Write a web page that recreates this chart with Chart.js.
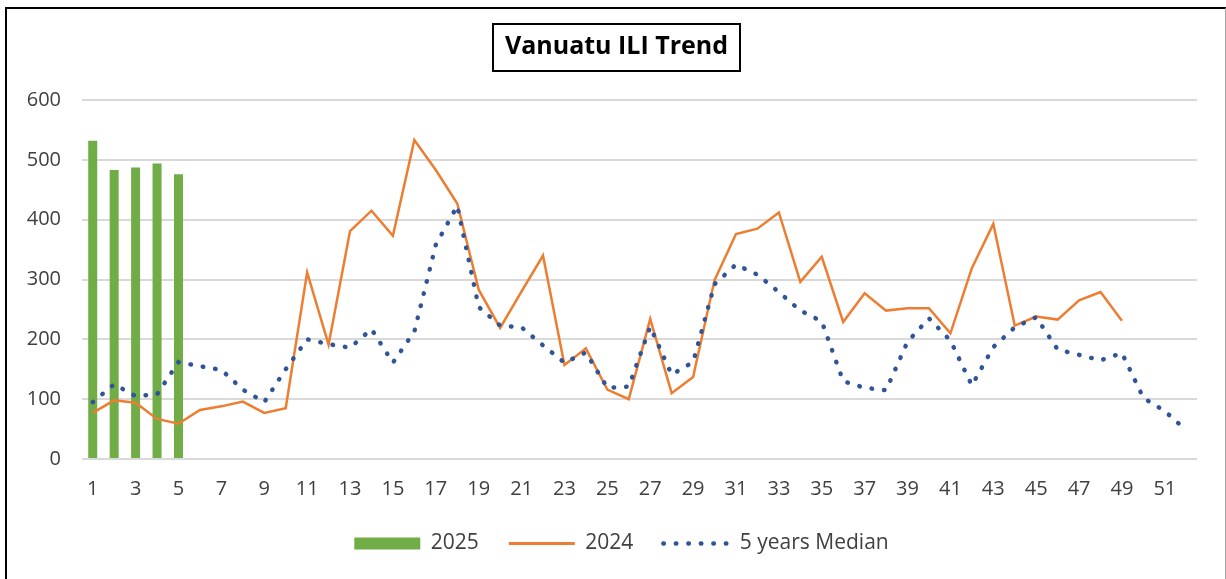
<!DOCTYPE html>
<html>
<head>
<meta charset="utf-8">
<title>Vanuatu ILI Trend</title>
<script src="https://cdn.jsdelivr.net/npm/chart.js@4/dist/chart.umd.min.js"></script>
<style>
  html, body { margin: 0; padding: 0; background: #fff; }
  #wrap { position: relative; width: 1226px; height: 579px; overflow: hidden; }
  #frame {
    position: absolute; left: 5px; top: 7px; width: 1221px; height: 600px;
    box-sizing: border-box; pointer-events: none;
    border-top: 2px solid #000; border-left: 2px solid #000; border-right: 1px solid #a6a6a6;
  }
  canvas { position: absolute; left: 0; top: 0; }
</style>
</head>
<body>
<div id="wrap">
  <canvas id="myChart" width="1226" height="579"></canvas>
  <div id="frame"></div>
</div>
<script>
// weekly ILI counts
const weeks = [];
for (let w = 1; w <= 52; w++) weeks.push(String(w));

const cases2025 = [532, 483, 487, 494, 476];

const cases2024 = [
  77, 98, 94, 67, 59, 82, 88, 96, 77, 85,
  312, 191, 381, 415, 373, 533, 483, 427, 283, 219,
  280, 340, 157, 185, 116, 100, 234, 110, 137, 299,
  376, 385, 412, 296, 338, 229, 277, 248, 252, 252,
  210, 319, 393, 223, 238, 233, 265, 279, 231
];

const median5y = [
  95, 125, 105, 108, 162, 155, 149, 116, 95, 150,
  200, 192, 186, 217, 161, 213, 358, 423, 254, 223,
  220, 190, 161, 178, 119, 121, 221, 141, 162, 292,
  325, 308, 279, 248, 230, 130, 119, 115, 196, 235,
  198, 123, 187, 220, 237, 183, 174, 165, 177, 102,
  80, 48
];

const yTicks = [0, 100, 200, 300, 400, 500, 600];

const constValues = {
  FONT: '"Open Sans", "Noto Sans", sans-serif',
  TEXT_COLOR: '#404040',
  GRID_COLOR: '#d9d9d9',
  GREEN: '#70ad47',
  ORANGE: '#ed7d31',
  BLUE: '#2f5597',
  LEGEND_SHIFT: 15,
  TITLE_SHIFT: 10
};

function padTo(values, length) {
  const out = values.slice();
  while (out.length < length) out.push(null);
  return out;
}

// title and legend sit a little right of the plot centre
const nudgePlugin = {
  id: 'nudge',
  afterLayout(chart) {
    if (chart.legend) {
      chart.legend.left += constValues.LEGEND_SHIFT;
      chart.legend.right += constValues.LEGEND_SHIFT;
    }
    if (chart.titleBlock) {
      chart.titleBlock.left += constValues.TITLE_SHIFT;
      chart.titleBlock.right += constValues.TITLE_SHIFT;
    }
  }
};

// draws a thin rectangle round the chart title
const titleBoxPlugin = {
  id: 'titleBox',
  afterDraw(chart) {
    const opts = chart.options.plugins.title;
    const block = chart.titleBlock;
    if (!block) return;
    const { ctx } = chart;
    const lineHeight = opts.font.size * 1.2;
    ctx.save();
    ctx.font = `bold ${opts.font.size}px ${opts.font.family}`;
    const textWidth = ctx.measureText(opts.text).width;
    const cx = (block.left + block.right) / 2;
    const cy = block.top + opts.padding.top + lineHeight / 2;
    ctx.lineWidth = 2;
    ctx.strokeStyle = '#000';
    ctx.strokeRect(Math.round(cx - textWidth / 2 - 12), Math.round(cy - 23.5), Math.round(textWidth + 24), 47);
    ctx.restore();
  }
};

function getData() {
  return {
    labels: weeks,
    datasets: [{
      type: 'bar',
      label: '2025',
      data: padTo(cases2025, weeks.length),
      backgroundColor: constValues.GREEN,
      borderWidth: 0,
      barPercentage: 0.42,
      categoryPercentage: 1,
      order: 2
    }, {
      type: 'line',
      label: '2024',
      data: padTo(cases2024, weeks.length),
      borderColor: constValues.ORANGE,
      backgroundColor: constValues.ORANGE,
      borderWidth: 2.5,
      pointRadius: 0,
      tension: 0,
      order: 1
    }, {
      type: 'line',
      label: '5 years Median',
      data: median5y,
      borderColor: constValues.BLUE,
      backgroundColor: constValues.BLUE,
      borderWidth: 4.5,
      borderDash: [0.5, 12],
      borderCapStyle: 'round',
      pointRadius: 0,
      tension: 0,
      order: 0
    }]
  };
}

function legendLabels(chart) {
  return chart.data.datasets.map((ds, i) => {
    const isBar = ds.type === 'bar';
    return {
      text: ds.label,
      datasetIndex: i,
      fillStyle: ds.backgroundColor,
      strokeStyle: isBar ? ds.backgroundColor : ds.borderColor,
      lineWidth: isBar ? 0 : (ds.label === '2024' ? 3 : ds.borderWidth),
      lineDash: ds.borderDash || [],
      lineCap: ds.borderCapStyle || 'butt',
      pointStyle: isBar ? 'rect' : 'line',
      fontColor: constValues.TEXT_COLOR,
      hidden: false
    };
  });
}

function getOptions() {
  return {
    responsive: false,
    animation: false,
    devicePixelRatio: 1,
    layout: { padding: { left: 16, right: 29, top: 0, bottom: 15 } },
    plugins: {
      title: {
        display: true,
        text: 'Vanuatu ILI Trend',
        color: '#000',
        font: { family: constValues.FONT, size: 25, weight: 'bold' },
        padding: { top: 32, bottom: 38 }
      },
      legend: {
        position: 'bottom',
        labels: {
          usePointStyle: true,
          pointStyleWidth: 66,
          boxHeight: 12,
          padding: 30,
          color: constValues.TEXT_COLOR,
          font: { family: constValues.FONT, size: 21 },
          generateLabels: legendLabels
        }
      },
      tooltip: { enabled: false }
    },
    scales: {
      x: {
        grid: { display: false, drawTicks: false },
        border: { display: false },
        ticks: {
          autoSkip: false,
          maxRotation: 0,
          padding: 18,
          color: constValues.TEXT_COLOR,
          font: { family: constValues.FONT, size: 20 },
          callback: (value, index) => (index % 2 === 0 ? weeks[index] : '')
        },
        afterFit: scale => { scale.height = 44; }
      },
      y: {
        min: 0,
        max: 600,
        afterBuildTicks: scale => { scale.ticks = yTicks.map(v => ({ value: v })); },
        grid: { color: constValues.GRID_COLOR, lineWidth: 2, drawTicks: false },
        border: { display: false },
        ticks: {
          padding: 21,
          color: constValues.TEXT_COLOR,
          font: { family: constValues.FONT, size: 20 }
        },
        afterFit: scale => { scale.width = 66; }
      }
    }
  };
}

function initChart() {
  const ctx = document.getElementById('myChart');
  new Chart(ctx, {
    data: getData(),
    options: getOptions(),
    plugins: [nudgePlugin, titleBoxPlugin]
  });
}

initChart();
</script>
</body>
</html>
